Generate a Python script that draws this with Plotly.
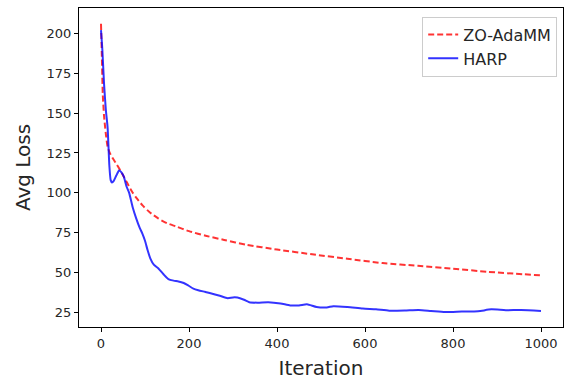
import plotly.graph_objects as go

# ZO-AdaMM (red dashed)
zo_iter = [0, 2, 4, 7, 11, 15, 20, 26, 33, 41, 50, 60, 70, 80, 95, 110, 130, 150, 170,
           200, 240, 280, 330, 400, 480, 560, 640, 720, 800, 880, 960, 1000]
zo_loss = [206, 185, 162, 148, 137, 129, 125, 122, 119, 115.5, 111, 106, 101, 97, 92, 88,
           84, 81, 79, 76, 73, 70.5, 67.5, 64.5, 61.5, 58.7, 56, 54.3, 52.5, 50.5, 49, 48.3]

# HARP (blue solid)
harp_iter = [0, 3, 7, 11, 15, 19, 22, 25, 29, 35, 41, 46, 52, 58, 64, 72, 80, 88, 94, 100,
             106, 112, 120, 131, 142, 153, 165, 176, 188, 198, 210, 221, 236, 251, 270, 288,
             300, 310, 325, 337, 356, 380, 408, 430, 450, 468, 490, 513, 528, 560, 595, 625,
             655, 690, 722, 750, 782, 820, 857, 887, 920, 955, 1000]
harp_loss = [202, 190, 168, 152, 141, 117, 108, 106.5, 107.5, 111, 114, 113, 110, 104, 100,
             91, 84, 78, 74.5, 70, 64, 59, 55, 52.5, 49, 46, 45, 44.5, 43.5, 42, 40, 39, 38,
             37, 35.5, 34, 34.5, 34.4, 33, 31.5, 31.2, 31.5, 30.7, 29.5, 29.5, 30.2, 28.5,
             28.2, 29, 28.5, 27.5, 27, 26.2, 26.3, 26.6, 26, 25.3, 25.6, 25.8, 27, 26.5, 26.6, 26]

x_ticks = [0, 200, 400, 600, 800, 1000]
y_ticks = [25, 50, 75, 100, 125, 150, 175, 200]

fig = go.Figure()
fig.add_trace(go.Scatter(x=zo_iter, y=zo_loss, mode="lines", name="ZO-AdaMM",
                         line=dict(color="rgba(255,0,0,0.8)", width=2, dash="6px,3px",
                                   shape="spline", smoothing=0.6)))
fig.add_trace(go.Scatter(x=harp_iter, y=harp_loss, mode="lines", name="HARP",
                         line=dict(color="rgba(0,0,255,0.8)", width=2,
                                   shape="spline", smoothing=0.6)))

axis_common = dict(showline=True, linecolor="black", linewidth=1, mirror=True,
                   showgrid=False, zeroline=False, ticks="outside", ticklen=4,
                   tickcolor="black", tickfont=dict(size=13, color="#262626"),
                   automargin=False)

fig.update_layout(
    width=566, height=381,
    margin=dict(l=79, r=3, t=8, b=54),
    paper_bgcolor="white", plot_bgcolor="white",
    font=dict(family="DejaVu Sans", color="#262626"),
    xaxis=dict(range=[-50, 1050], tickvals=x_ticks,
               title=dict(text="Iteration", font=dict(size=20), standoff=11), **axis_common),
    yaxis=dict(range=[15.95, 215.85], tickvals=y_ticks,
               title=dict(text="Avg Loss", font=dict(size=20), standoff=10), **axis_common),
    legend=dict(x=0.988, y=0.973, xanchor="right", yanchor="top",
                bgcolor="rgba(255,255,255,0.8)", bordercolor="#cccccc", borderwidth=1,
                font=dict(size=16), tracegroupgap=2),
    showlegend=True,
)

fig.write_html("out.html", config={"displayModeBar": False},
               post_script="document.body.style.margin='0';document.body.style.overflow='hidden';")
